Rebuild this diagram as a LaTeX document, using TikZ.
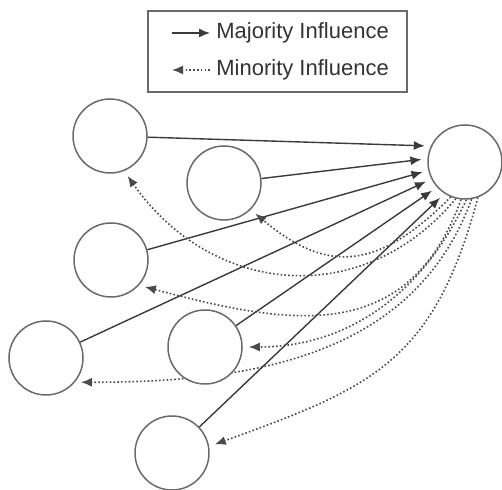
\documentclass[tikz,border=0pt]{standalone}
\usepackage{fontspec}
\setmainfont{Liberation Sans}
\usepackage{xcolor}
\usetikzlibrary{arrows.meta,backgrounds}
\definecolor{circlegray}{HTML}{6a6a6a}
\definecolor{linegray}{HTML}{3a3a3a}
\definecolor{dotgray}{HTML}{4a4a4a}
\definecolor{textgray}{HTML}{333333}

\begin{document}
\begin{tikzpicture}[x = 0.5pt, y = -0.5pt,
        member/.style = {draw = circlegray, fill = white, circle, line width = 0.75pt, minimum size = 37pt, inner sep = 0pt},
        majority/.style = {-{Latex[length = 5.5pt, width = 4.5pt]}, draw = linegray, line width = 0.7pt, shorten > = 3pt},
        minority/.style = {-{Latex[length = 5.5pt, width = 4.5pt]}, draw = dotgray, line width = 0.8pt, dash pattern = on 0.8pt off 1.1pt, shorten > = 3pt},
        legendtext/.style = {anchor = west, inner sep = 0pt, text = textgray, font = \fontsize{11}{13}\selectfont}]
        \useasboundingbox (0, 0) rectangle (502, 490);

        % Nodes
        \node [member] (a) at (110, 136) {};
        \node [member] (b) at (224, 183) {};
        \node [member] (c) at (111, 260) {};
        \node [member] (d) at (46, 358) {};
        \node [member] (e) at (205, 347) {};
        \node [member] (f) at (172, 453) {};
        \node [member] (t) at (465, 162) {};

        % Legend
        \node [draw = circlegray, line width = 0.6pt, minimum width = 129.5pt, minimum height = 40.5pt] (legend) at (277.5, 51.5) {};
        \coordinate (majfrom) at (172, 33);
        \coordinate (majto) at (210, 33);
        \coordinate (minfrom) at (210, 70);
        \coordinate (minto) at (172, 70);
        \draw [majority, shorten > = 0pt] (majfrom) -- (majto);
        \draw [minority, shorten > = 0pt] (minfrom) -- (minto);
        \node [legendtext] (majlabel) at (216, 33) {Majority Influence};
        \node [legendtext] (minlabel) at (216, 70) {Minority Influence};

        \begin{scope}[on background layer]
        % Draw the links
        \draw [majority] (a) -- (t.155);
        \draw [majority] (b) -- (t.175);
        \draw [majority] (c) -- (t.193);
        \draw [majority] (d) -- (t.207);
        \draw [majority] (e) -- (t.222);
        \draw [majority] (f) -- (t.237);

        % Minority links back
        \draw [minority] (t.-112) to [out = 225, in = -40, looseness = 1.3] (b.-45);
        \draw [minority] (t.-104) to [out = 230, in = -55, looseness = 1.15] (a.-68);
        \draw [minority] (t.-96) to [out = 250, in = -15, looseness = 1.2] (c.-42);
        \draw [minority] (t.-88) to [out = 245, in = 0] (e.0);
        \draw [minority] (t.-80) to [out = 250, in = 0] (d.-40);
        \draw [minority] (t.-70) to [out = 255, in = 20, looseness = 1.2] (f.10);
        \end{scope}

    \end{tikzpicture}
\end{document}
